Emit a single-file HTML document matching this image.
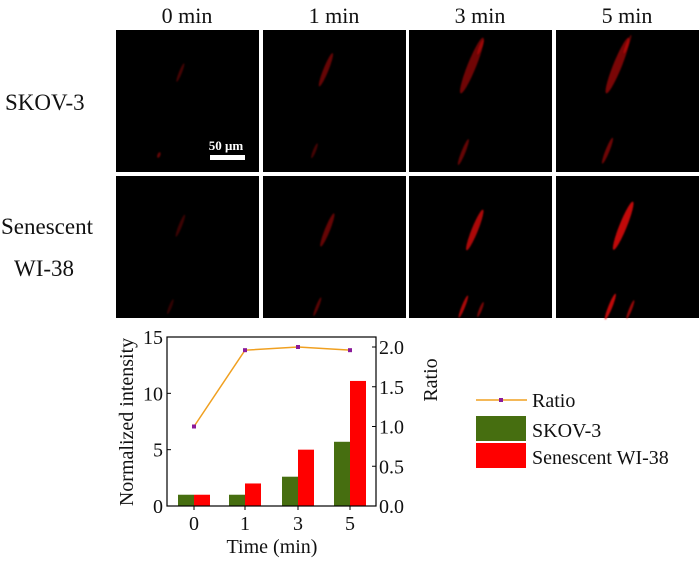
<!DOCTYPE html>
<html><head><meta charset="utf-8"><style>
body{margin:0;background:#fff;}
svg text{font-family:"Liberation Serif",serif;fill:#111;}
</style></head><body>
<svg width="700" height="558" viewBox="0 0 700 558" xmlns="http://www.w3.org/2000/svg">
<defs><filter id="bl" x="-50%" y="-50%" width="200%" height="200%"><feGaussianBlur stdDeviation="0.8"/></filter></defs>
<g id="panels"></g>
<g font-size="22">
<text x="187" y="23" text-anchor="middle">0 min</text>
<text x="334" y="23" text-anchor="middle">1 min</text>
<text x="480" y="23" text-anchor="middle">3 min</text>
<text x="627" y="23" text-anchor="middle">5 min</text>
</g>
<g font-size="23">
<text x="5" y="110">SKOV-3</text>
<text x="1" y="234">Senescent</text>
<text x="14" y="276">WI-38</text>
</g>
<g>
<text x="226" y="150" font-size="13" font-weight="bold" text-anchor="middle" style="fill:#fff">50 μm</text>
<rect x="210" y="155" width="35" height="5" fill="#fff"/>
</g>
<g id="chart"></g>
<g font-size="20">
<line x1="476" y1="400" x2="527" y2="400" stroke="#f0a020" stroke-width="1.5"/>
<rect x="499" y="398" width="4" height="4" fill="#8a1a9a"/>
<text x="532" y="407">Ratio</text>
<rect x="476" y="416" width="50" height="25" fill="#466e10"/>
<text x="532" y="437">SKOV-3</text>
<rect x="476" y="443" width="50" height="25" fill="#ff0000"/>
<text x="532" y="464">Senescent WI-38</text>
</g>
</svg>
<script>
const categories=["0","1","3","5"];
const skov=[1,1,2.6,5.7];
const senescent=[1,2,5,11.1];
const ratio=[1.0,1.96,2.0,1.96];
const leftTicks=[0,5,10,15];
const rightTicks=["0.0","0.5","1.0","1.5","2.0"];

const NS="http://www.w3.org/2000/svg";
function mk(tag,attrs,parent,txt){const e=document.createElementNS(NS,tag);for(const k in attrs)e.setAttribute(k,attrs[k]);if(txt!==undefined)e.textContent=txt;parent.appendChild(e);return e;}

// panels
const P=document.getElementById('panels');
const cols=[116,263,409,556],rows=[30,176],pw=143,ph=142;
// [x frac, y frac, length, opacity]
const strands=[
 [[0.45,0.3,10,0.35],[0.3,0.88,3,0.5]],
 [[0.44,0.28,18,0.5],[0.36,0.85,8,0.35]],
 [[0.44,0.25,30,0.55],[0.38,0.86,14,0.5],[0.5,0.12,8,0.4]],
 [[0.43,0.25,30,0.6],[0.36,0.85,14,0.55],[0.5,0.1,10,0.45]],
 [[0.45,0.35,12,0.3],[0.38,0.92,8,0.25]],
 [[0.45,0.38,18,0.5],[0.38,0.92,10,0.45]],
 [[0.46,0.38,22,0.85],[0.38,0.92,12,0.85],[0.5,0.94,8,0.6]],
 [[0.47,0.35,26,0.95],[0.38,0.92,14,0.95],[0.52,0.94,10,0.75]]];
rows.forEach((y,r)=>cols.forEach((x,c)=>{
 const g=mk('g',{},P);
 
 
 mk('rect',{x:x,y:y,width:pw,height:ph,fill:'#000'},g);
 strands[r*4+c].forEach(s=>{const cx=x+s[0]*pw,cy=y+s[1]*ph;
  mk('ellipse',{cx:cx,cy:cy,rx:Math.max(1.5,s[2]/7),ry:s[2],fill:'#ff1010',opacity:s[3]*0.8,filter:'url(#bl)',transform:`rotate(22 ${cx} ${cy})`},g);});
}));

// chart
const C=document.getElementById('chart');
const L=167,R=376,T=337,B=506;
const xPos=[194,245,298,350];
const yL=v=>B-(v/15)*(B-T);
const yR=v=>B-(v/2.0)*(B-347);
const bw=16;
categories.forEach((c,i)=>{
 const b1=mk('rect',{x:xPos[i]-bw,y:yL(skov[i]),width:bw,height:B-yL(skov[i]),fill:'#466e10'},C);
 
 
 const b2=mk('rect',{x:xPos[i],y:yL(senescent[i]),width:bw,height:B-yL(senescent[i]),fill:'#ff0000'},C);
 
 
 const t=mk('text',{x:xPos[i],y:B+24,'font-size':20,'text-anchor':'middle'},C,c);
 
 
 mk('line',{x1:xPos[i],y1:B,x2:xPos[i],y2:B+4,stroke:'#000'},C);
});
const line=mk('polyline',{points:ratio.map((v,i)=>xPos[i]+','+yR(v)).join(' '),fill:'none',stroke:'#f0a020','stroke-width':1.5},C);


ratio.forEach((v,i)=>{const p=mk('rect',{x:xPos[i]-2,y:yR(v)-2,width:4,height:4,fill:'#8a1a9a'},C);
 
 });
mk('rect',{x:L,y:T,width:R-L,height:B-T,fill:'none',stroke:'#000','stroke-width':1.2},C);
leftTicks.forEach(v=>{mk('line',{x1:L,y1:yL(v),x2:L+4,y2:yL(v),stroke:'#000'},C);
 const t=mk('text',{x:L-4,y:yL(v)+7,'font-size':20,'text-anchor':'end'},C,String(v));
 
 });
rightTicks.forEach(s=>{const v=parseFloat(s);mk('line',{x1:R,y1:yR(v),x2:R-4,y2:yR(v),stroke:'#000'},C);
 const t=mk('text',{x:R+3,y:yR(v)+7,'font-size':20},C,s);
 
 });
const xt=mk('text',{x:272,y:553,'font-size':20,'text-anchor':'middle'},C,'Time (min)');


const yt=mk('text',{x:0,y:0,'font-size':20,'text-anchor':'middle',transform:'translate(133,422) rotate(-90)'},C,'Normalized intensity');


const yt2=mk('text',{x:0,y:0,'font-size':20,'text-anchor':'middle',transform:'translate(437,380) rotate(-90)'},C,'Ratio');


</script>
</body></html>
